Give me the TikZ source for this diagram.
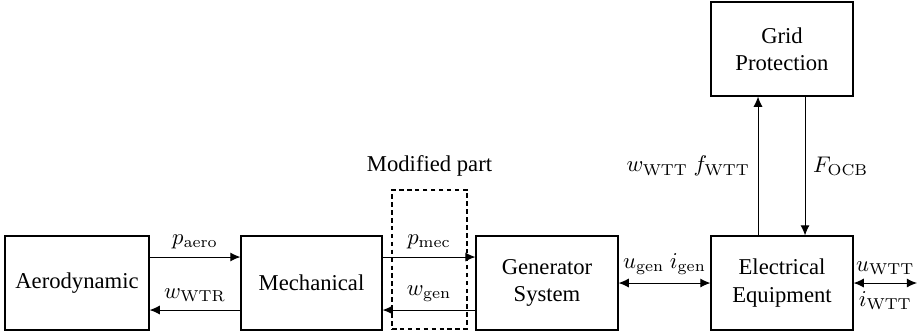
\documentclass[tikz,border=0pt]{standalone}
\usepackage[no-math]{fontspec}
\setmainfont{Liberation Serif}
\usetikzlibrary{calc,arrows.meta}
\begin{document}
\begin{tikzpicture}[x=0.44166pt,y=-0.44166pt,
  blk/.style={draw,line width=0.5pt,align=center,inner sep=0pt,
    minimum width={142*0.44166pt},minimum height={94*0.44166pt}},
  modbox/.style={draw,line width=0.8pt,dash pattern=on 2pt off 1.5pt,inner sep=0pt,
    minimum width={75*0.44166pt},minimum height={139*0.44166pt}},
  arr/.style={-{Latex[length=4.5pt,width=4pt]},line width=0.45pt},
  darr/.style={{Latex[length=4.5pt,width=4pt]}-{Latex[length=4.5pt,width=4pt]},line width=0.45pt}]
\useasboundingbox (0,0) rectangle (917,333);

% blocks
\node[blk,minimum width={144*0.44166pt}] (aero) at (77,283) {Aerodynamic};
\node[blk,minimum width={141*0.44166pt}] (mech) at (311.5,283) {Mechanical};
\node[blk] (gen) at (547,283) {Generator\\System};
\node[blk] (elec) at (782,283) {Electrical\\Equipment};
\node[blk] (grid) at (782,49) {Grid\\Protection};

% the modified part of the chain
\node[modbox] (mod) at (429.5,259.5) {};
\node[above=2pt] (modlbl) at (mod.north) {Modified part};

% free end of the grid connection
\coordinate (gridend) at (917,283);

% signal flow
\draw[arr] ($(aero.east)+(0,-26)$) -- node[above] {$p_\mathrm{aero}$} ($(mech.west)+(0,-26)$);
\draw[arr] ($(mech.west)+(0,27)$) -- node[above] {$w_\mathrm{WTR}$} ($(aero.east)+(0,27)$);
\draw[arr] ($(mech.east)+(0,-26)$) -- node[above] {$p_\mathrm{mec}$} ($(gen.west)+(0,-26)$);
\draw[arr] ($(gen.west)+(0,27)$) -- node[above] {$w_\mathrm{gen}$} ($(mech.east)+(0,27)$);
\draw[darr] (gen.east) -- node[above] {$u_\mathrm{gen}\ i_\mathrm{gen}$} (elec.west);
\draw[darr] (elec.east) -- node[above] {$u_\mathrm{WTT}$} node[below] {$i_\mathrm{WTT}$} (gridend);
\draw[arr] ($(elec.north)+(-24,0)$) -- node[left] {$w_\mathrm{WTT}\ f_\mathrm{WTT}$} ($(grid.south)+(-24,0)$);
\draw[arr] ($(grid.south)+(23,0)$) -- node[right] {$F_\mathrm{OCB}$} ($(elec.north)+(23,0)$);
\end{tikzpicture}
\end{document}
